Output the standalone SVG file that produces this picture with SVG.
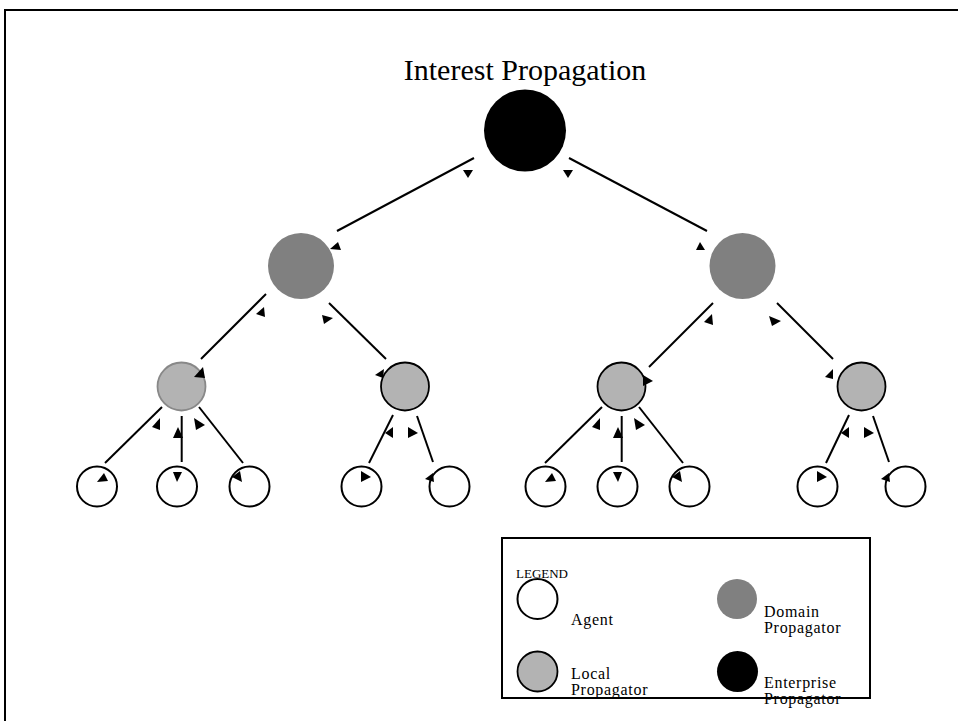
<svg xmlns="http://www.w3.org/2000/svg" width="958" height="721" viewBox="0 0 958 721">
<style>
text{font-family:"Liberation Serif","Times New Roman",serif;fill:#000}
.ln{stroke:#000;stroke-width:2;fill:none}
.ah{fill:#000;stroke:none}
.agent{fill:#fff;stroke:#000;stroke-width:2}
.local{fill:#b3b3b3;stroke:#000;stroke-width:1.8}
.domain{fill:#808080;stroke:none}
.ent{fill:#000;stroke:none}
.lbl{font-size:16px;letter-spacing:0.7px}
</style>
<rect x="0" y="0" width="958" height="721" fill="#fff"/>
<rect x="5" y="10" width="1000" height="800" fill="none" stroke="#000" stroke-width="2"/>
<text x="525" y="80" font-size="30" text-anchor="middle">Interest Propagation</text>

<g id="connectors">
  <line class="ln" x1="474" y1="158" x2="337" y2="231"/>
  <line class="ln" x1="569" y1="158" x2="707" y2="231"/>
  <line class="ln" x1="266" y1="294" x2="201" y2="359"/>
  <line class="ln" x1="329" y1="303" x2="386" y2="359"/>
  <line class="ln" x1="713" y1="303" x2="649" y2="367"/>
  <line class="ln" x1="777" y1="303" x2="833" y2="359"/>
  <line class="ln" x1="162" y1="407" x2="105" y2="463"/>
  <line class="ln" x1="181.7" y1="416" x2="181.7" y2="462"/>
  <line class="ln" x1="199" y1="407" x2="243" y2="463"/>
  <line class="ln" x1="393" y1="415" x2="369" y2="463"/>
  <line class="ln" x1="417" y1="416" x2="433" y2="462"/>
  <line class="ln" x1="602" y1="407" x2="545" y2="463"/>
  <line class="ln" x1="621.7" y1="416" x2="621.7" y2="462"/>
  <line class="ln" x1="639" y1="407" x2="683" y2="463"/>
  <line class="ln" x1="849" y1="415" x2="826" y2="463"/>
  <line class="ln" x1="873" y1="416" x2="889" y2="462"/>
</g>

<g id="enterprise"><circle class="ent" cx="525" cy="130.5" r="41"/></g>
<g id="domain-left"><circle class="domain" cx="301" cy="266" r="33"/></g>
<g id="domain-right"><circle class="domain" cx="742.5" cy="266" r="33"/></g>
<g id="local-1"><circle cx="181.5" cy="386.5" r="24" fill="#b3b3b3" stroke="#888" stroke-width="1.8"/></g>
<g id="local-2"><circle class="local" cx="405" cy="386.5" r="24"/></g>
<g id="local-3"><circle class="local" cx="621.5" cy="386.5" r="24"/></g>
<g id="local-4"><circle class="local" cx="861.5" cy="386.5" r="24"/></g>
<g id="agent-1"><circle class="agent" cx="97" cy="486.5" r="20"/></g>
<g id="agent-2"><circle class="agent" cx="177" cy="486.5" r="20"/></g>
<g id="agent-3"><circle class="agent" cx="249.5" cy="486.5" r="20"/></g>
<g id="agent-4"><circle class="agent" cx="361.5" cy="486.5" r="20"/></g>
<g id="agent-5"><circle class="agent" cx="449.5" cy="486.5" r="20"/></g>
<g id="agent-6"><circle class="agent" cx="545.5" cy="486.5" r="20"/></g>
<g id="agent-7"><circle class="agent" cx="617.5" cy="486.5" r="20"/></g>
<g id="agent-8"><circle class="agent" cx="689.5" cy="486.5" r="20"/></g>
<g id="agent-9"><circle class="agent" cx="817.5" cy="486.5" r="20"/></g>
<g id="agent-10"><circle class="agent" cx="905.5" cy="486.5" r="20"/></g>

<g id="connector-arrowheads">
  <polygon class="ah" points="463,170 473,170 468,178"/>
  <polygon class="ah" points="563,170 573,170 568,178"/>
  <polygon class="ah" points="330,249 338,242 341,250"/>
  <polygon class="ah" points="696,250 705,250 700,242"/>
  <polygon class="ah" points="256,314 264,307 265,317"/>
  <polygon class="ah" points="322,315 333,318 324,324"/>
  <polygon class="ah" points="704,322 712,314 713,325"/>
  <polygon class="ah" points="769,316 781,321 772,326"/>
  <polygon class="ah" points="643,375 653,381 643,386"/>
  <polygon class="ah" points="825,377 833,369 833,379"/>
  <polygon class="ah" points="194,377 203,367 205,378"/>
  <polygon class="ah" points="375,375 384,369 383,378"/>
  <polygon class="ah" points="152,427 160,418 160,430"/>
  <polygon class="ah" points="173,438 183,438 178,427"/>
  <polygon class="ah" points="194,418 205,425 196,430"/>
  <polygon class="ah" points="97,482 104,473 108,481"/>
  <polygon class="ah" points="173,472 182,472 177,482"/>
  <polygon class="ah" points="232,477 240,471 242,482"/>
  <polygon class="ah" points="385,433 393,427 393,438"/>
  <polygon class="ah" points="408,427 418,433 408,438"/>
  <polygon class="ah" points="361,471 371,477 361,482"/>
  <polygon class="ah" points="425,479 433,473 434,482"/>
  <polygon class="ah" points="592,427 600,418 600,430"/>
  <polygon class="ah" points="613,438 623,438 618,427"/>
  <polygon class="ah" points="634,418 645,425 636,430"/>
  <polygon class="ah" points="545,482 552,473 556,481"/>
  <polygon class="ah" points="613,472 622,472 618,482"/>
  <polygon class="ah" points="672,477 680,471 682,482"/>
  <polygon class="ah" points="841,433 849,427 849,438"/>
  <polygon class="ah" points="864,427 874,433 864,438"/>
  <polygon class="ah" points="817,471 827,477 817,482"/>
  <polygon class="ah" points="881,479 889,473 890,482"/>
</g>

<g id="legend">
  <rect x="502" y="538" width="368" height="160" fill="none" stroke="#000" stroke-width="2"/>
  <text x="516" y="578" font-size="13">LEGEND</text>
  <circle class="agent" cx="537.5" cy="599" r="20"/>
  <text class="lbl" x="571" y="625">Agent</text>
  <circle class="domain" cx="737" cy="599" r="20" stroke="#000" stroke-width="1.8"/>
  <text class="lbl" x="764" y="617">Domain</text>
  <text class="lbl" x="764" y="633">Propagator</text>
  <circle class="local" cx="537.5" cy="671.5" r="20"/>
  <text class="lbl" x="571" y="679">Local</text>
  <text class="lbl" x="571" y="695">Propagator</text>
  <circle class="ent" cx="737.5" cy="671.5" r="20.5"/>
  <text class="lbl" x="764" y="688">Enterprise</text>
  <text class="lbl" x="764" y="704">Propagator</text>
</g>
</svg>
